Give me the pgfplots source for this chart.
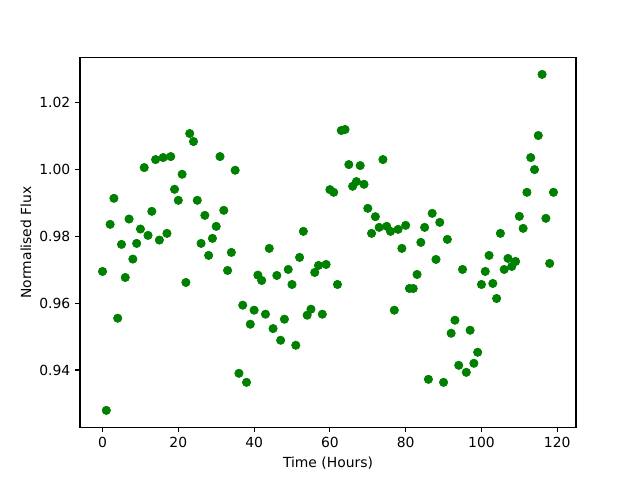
\documentclass[border=0pt]{standalone}
\usepackage{fontspec}
\setmainfont{DejaVu Sans}
\usepackage{pgfplots}
\pgfplotsset{compat=1.18}
\definecolor{mplgreen}{RGB}{0,128,0}
\begin{document}
\begin{tikzpicture}
\begin{axis}[
  scale only axis, width=357.12bp, height=266.11bp,
  xmin=-5.95, xmax=124.95, ymin=0.92287, ymax=1.03353,
  xtick={0,20,40,60,80,100,120},
  ytick={0.94,0.96,0.98,1.00,1.02},
  yticklabels={0.94,0.96,0.98,1.00,1.02},
  tick align=outside, major tick length=3.5bp,
  xtick pos=left, ytick pos=left,
  every tick/.style={black, line width=0.8bp},
  axis line style={line width=0.8bp},
  ticklabel style={font=\fontsize{10bp}{12bp}\selectfont},
  /pgf/number format/assume math mode=true,
  scaled y ticks=false,
  xlabel={Time (Hours)}, ylabel={Normalised Flux},
  label style={font=\fontsize{10bp}{12bp}\selectfont},
  xlabel style={at={([yshift=-25.8bp]axis description cs:0.5,0)}, anchor=center},
  ylabel style={at={([xshift=-38.9bp]axis description cs:0,0.5)}, anchor=center},
]
\addplot[only marks, mark=*, mark size=3bp, mark options={fill=mplgreen, draw=mplgreen, line width=0.5bp}] table {
x y
0 0.9695
1 0.9279
2 0.9836
3 0.9914
4 0.9555
5 0.9776
6 0.9677
7 0.9852
8 0.9732
9 0.9779
10 0.9822
11 1.0006
12 0.9803
13 0.9875
14 1.0030
15 0.9789
16 1.0036
17 0.9809
18 1.0039
19 0.9941
20 0.9908
21 0.9986
22 0.9662
23 1.0108
24 1.0084
25 0.9908
26 0.9779
27 0.9863
28 0.9743
29 0.9794
30 0.9830
31 1.0039
32 0.9878
33 0.9698
34 0.9752
35 0.9998
36 0.9390
37 0.9594
38 0.9363
39 0.9537
40 0.9579
41 0.9684
42 0.9668
43 0.9567
44 0.9764
45 0.9524
46 0.9683
47 0.9489
48 0.9552
49 0.9701
50 0.9656
51 0.9474
52 0.9737
53 0.9815
54 0.9564
55 0.9582
56 0.9692
57 0.9713
58 0.9567
59 0.9716
60 0.9940
61 0.9932
62 0.9656
63 1.0117
64 1.0120
65 1.0015
66 0.9950
67 0.9964
68 1.0012
69 0.9956
70 0.9884
71 0.9809
72 0.9859
73 0.9827
74 1.0030
75 0.9830
76 0.9815
77 0.9579
78 0.9821
79 0.9764
80 0.9833
81 0.9644
82 0.9644
83 0.9686
84 0.9782
85 0.9827
86 0.9372
87 0.9869
88 0.9731
89 0.9842
90 0.9363
91 0.9791
92 0.9510
93 0.9549
94 0.9414
95 0.9701
96 0.9393
97 0.9519
98 0.9420
99 0.9453
100 0.9656
101 0.9695
102 0.9743
103 0.9659
104 0.9614
105 0.9809
106 0.9701
107 0.9734
108 0.9710
109 0.9725
110 0.9860
111 0.9824
112 0.9932
113 1.0036
114 1.0000
115 1.0102
116 1.0285
117 0.9854
118 0.9719
119 0.9932
};
\end{axis}
\path[use as bounding box] ([shift={(-57.6bp,-38.02bp)}]current axis.south west) rectangle ++(460.8bp,345.6bp);
\end{tikzpicture}
\end{document}
